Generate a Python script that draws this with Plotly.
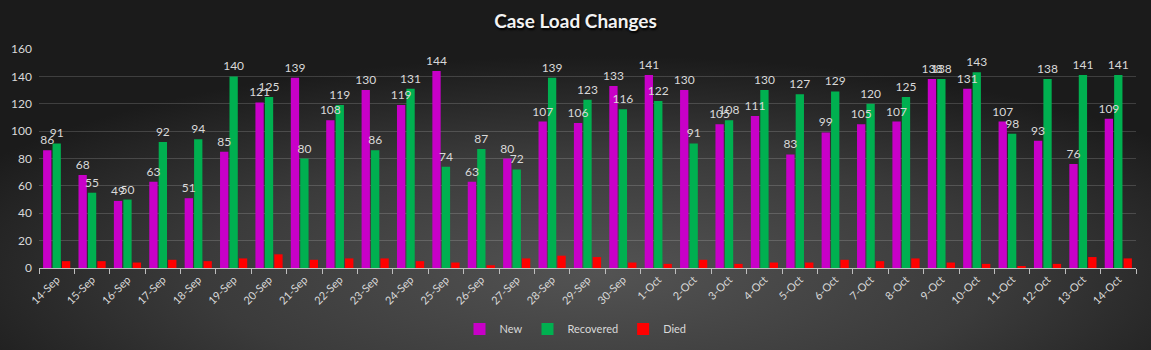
import base64
import plotly.graph_objects as go

dates = ["14-Sep", "15-Sep", "16-Sep", "17-Sep", "18-Sep", "19-Sep", "20-Sep", "21-Sep",
         "22-Sep", "23-Sep", "24-Sep", "25-Sep", "26-Sep", "27-Sep", "28-Sep", "29-Sep",
         "30-Sep", "1-Oct", "2-Oct", "3-Oct", "4-Oct", "5-Oct", "6-Oct", "7-Oct", "8-Oct",
         "9-Oct", "10-Oct", "11-Oct", "12-Oct", "13-Oct", "14-Oct"]
new_cases = [86, 68, 49, 63, 51, 85, 121, 139, 108, 130, 119, 144, 63, 80, 107, 106,
             133, 141, 130, 105, 111, 83, 99, 105, 107, 138, 131, 107, 93, 76, 109]
recovered = [91, 55, 50, 92, 94, 140, 125, 80, 119, 86, 131, 74, 87, 72, 139, 123,
             116, 122, 91, 108, 130, 127, 129, 120, 125, 138, 143, 98, 138, 141, 141]
died = [5, 5, 4, 6, 5, 7, 10, 6, 7, 7, 5, 4, 2, 7, 9, 8,
        4, 3, 6, 3, 4, 4, 6, 5, 7, 4, 3, 1, 3, 8, 7]
y_ticks = [0, 20, 40, 60, 80, 100, 120, 140, 160]

W, H = 1151, 350
ML, MR, MT, MB = 39, 15, 49, 82
FONT = "Lato, 'Open Sans', sans-serif"
LABEL = "#d9d9d9"

fig = go.Figure()
series = [("New", new_cases, "#C800C8", "a"),
          ("Recovered", recovered, "#00B050", "b"),
          ("Died", died, "#FF0000", "c")]
for name, vals, col, grp in series:
    fig.add_trace(go.Bar(name=name, x=dates, y=vals, marker_color=col,
                         marker_line_width=0, offsetgroup=grp))
# data labels drawn on top of all bars (same slots via offsetgroup)
for name, vals, col, grp in series[:2]:
    fig.add_trace(go.Bar(name=name + " labels", x=dates, y=vals, offsetgroup=grp,
                         marker_color="rgba(0,0,0,0)", marker_line_width=0,
                         showlegend=False, hoverinfo="skip",
                         text=vals, textposition="outside", constraintext="none",
                         cliponaxis=False,
                         textfont=dict(color=LABEL, size=12, family=FONT)))

svg = f'''<svg xmlns="http://www.w3.org/2000/svg" width="{W}" height="{H}" preserveAspectRatio="none" viewBox="0 0 {W} {H}">
<defs><radialGradient id="g" cx="0.52" cy="0.78" r="0.62">
<stop offset="0" stop-color="#535353"/><stop offset="0.55" stop-color="#3b3b3b"/><stop offset="1" stop-color="#1b1b1b"/>
</radialGradient></defs><rect width="{W}" height="{H}" fill="url(#g)"/></svg>'''
src = "data:image/svg+xml;base64," + base64.b64encode(svg.encode()).decode()

pw = W - ML - MR
ph = H - MT - MB
fig.add_layout_image(dict(source=src, xref="paper", yref="paper",
                          x=-ML / pw, y=1 + MT / ph, sizex=W / pw, sizey=H / ph,
                          xanchor="left", yanchor="top", sizing="stretch", layer="below"))

fig.update_layout(
    width=W, height=H,
    margin=dict(l=ML, r=MR, t=MT, b=MB, autoexpand=False),
    paper_bgcolor="#333333", plot_bgcolor="rgba(0,0,0,0)",
    barmode="group", bargap=0.2, bargroupgap=0.12,
    title=dict(text="<b>Case Load Changes</b>", x=0.5, xanchor="center", xref="container",
               y=1 - 21 / H, yanchor="middle", yref="container",
               font=dict(family=FONT, size=19, color="#f2f2f2", shadow="1px 2px 2px #000")),
    font=dict(family=FONT, color=LABEL),
    legend=dict(orientation="h", x=0.5, xanchor="center", xref="container",
                y=1 - 329 / H, yanchor="middle", yref="container",
                font=dict(size=11, color=LABEL), bgcolor="rgba(0,0,0,0)",
                itemwidth=30, tracegroupgap=0),
    xaxis=dict(type="category", tickangle=-45, tickfont=dict(size=11, color=LABEL),
               showline=True, linecolor="#bfbfbf", linewidth=1,
               ticks="outside", tickson="boundaries", ticklen=5, tickcolor="#bfbfbf",
               showgrid=False, automargin=False),
    yaxis=dict(range=[0, 160], tickvals=y_ticks, tickfont=dict(size=12, color=LABEL),
               showgrid=True, gridcolor="rgba(255,255,255,0.16)", gridwidth=1,
               zeroline=False, showline=False, ticks="", ticklabelstandoff=6,
               automargin=False),
    showlegend=True,
)

fig.write_html("out.html")
